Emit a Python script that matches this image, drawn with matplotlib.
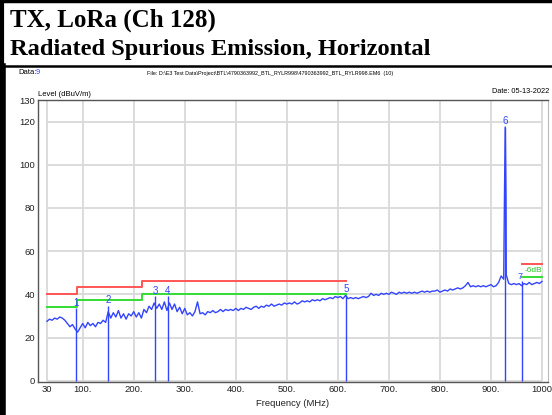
import numpy as np
import matplotlib
matplotlib.use("Agg")
import matplotlib.pyplot as plt

# Trace (peak scan), every 5 MHz
freq_mhz = np.arange(30, 1001, 5)
level_dbuv = [
    27.5, 28.5, 28.0, 29.0, 28.5, 29.5, 29.0, 28.0, 26.5, 25.0, 26.0, 24.0,
    22.5, 24.5, 26.5, 24.5, 27.0, 25.5, 26.5, 25.0, 27.0, 26.5, 28.0, 27.0,
    32.0, 29.0, 31.5, 29.5, 32.5, 29.0, 31.0, 28.5, 31.0, 30.0, 32.0, 29.5,
    31.5, 29.0, 33.0, 31.5, 34.5, 33.0, 36.0, 33.5, 35.5, 33.0, 36.5, 32.5,
    36.0, 33.0, 35.5, 32.0, 34.0, 31.0, 33.5, 30.5, 31.5, 30.0, 32.0, 36.5,
    31.0, 31.5, 30.5, 32.0, 31.5, 32.5, 31.5, 32.0, 33.0, 32.0, 33.0, 32.5,
    33.0, 32.5, 33.5, 32.5, 33.5, 33.0, 34.0, 33.5, 33.0, 34.0, 34.5, 33.5,
    34.5, 34.0, 35.0, 34.5, 35.5, 34.5, 35.0, 35.5, 35.0, 36.0, 35.5, 36.0,
    35.5, 36.5, 35.5, 36.0, 37.0, 36.5, 37.0, 36.5, 37.5, 37.0, 37.5, 37.0,
    38.0, 37.5, 38.0, 38.5, 38.0, 39.0, 38.5, 39.0, 38.0, 39.5, 38.0, 38.5,
    38.0, 38.5, 38.0, 38.5, 39.0, 38.5, 39.0, 40.5, 39.5, 40.0, 39.5, 40.5,
    40.0, 40.5, 40.0, 41.0, 40.5, 40.0, 41.0, 40.5, 41.0, 40.5, 41.0, 40.5,
    41.0, 40.5, 41.0, 41.5, 41.0, 41.5, 41.0, 41.5, 41.5, 42.0, 41.0, 41.5,
    42.0, 41.5, 42.5, 42.0, 42.5, 43.0, 42.5, 43.0, 44.0, 45.5, 43.5, 44.0,
    43.5, 44.0, 43.5, 44.0, 43.5, 44.0, 44.5, 43.5, 44.0, 45.5, 48.5, 47.0,
    49.0, 45.0, 44.5, 45.0, 44.5, 45.0, 44.0, 45.0, 44.5, 45.5, 44.5, 45.0,
    45.5, 45.0, 46.0,
]
# carrier spike
spike_freq = [926.5, 928.0, 929.5]
spike_level = [86.0, 117.5, 84.0]

# limit lines (red) and -6 dB margin (green)
limit_freq = [30, 88, 88, 216, 216, 615]
limit_level = [40.0, 40.0, 43.5, 43.5, 46.0, 46.0]
margin_level = [34.0, 34.0, 37.5, 37.5, 40.0, 40.0]
limit2_freq = [960, 1000]
limit2_level = [54.0, 54.0]
margin2_level = [48.0, 48.0]

# markers
marker_no = ["1", "2", "3", "4", "5", "6", "7"]
marker_freq = [86.9, 150.0, 241.6, 266.5, 615.5, 928.0, 960.0]
marker_level = [33.5, 34.5, 39.0, 39.0, 39.7, 117.5, 46.0]

xticks = [30, 100, 200, 300, 400, 500, 600, 700, 800, 900, 1000]
xticklabels = ["30", "100.", "200.", "300.", "400.", "500.", "600.",
               "700.", "800.", "900.", "1000"]
yticks = [0, 20, 40, 60, 80, 100, 120, 130]

W, H = 552, 415
narrow = ["Liberation Sans Narrow", "Liberation Sans"]
blue = "#3344ff"

fig = plt.figure(figsize=(W / 100, H / 100), dpi=100)

# report frame
fig.add_artist(plt.Line2D([0, 1], [1 - 1 / H, 1 - 1 / H], color="black", lw=2.5))
fig.add_artist(plt.Line2D([0, 1], [1 - 66 / H, 1 - 66 / H], color="black", lw=1.8))
fig.add_artist(plt.Line2D([1.5 / W, 1.5 / W], [0, 1], color="black", lw=3))
fig.add_artist(plt.Line2D([2.5 / W, 2.5 / W], [0, 1 - 66 / H], color="black", lw=4))

fig.text(10 / W, 1 - 20 / H, "TX, LoRa (Ch 128)", family="Liberation Serif",
         weight="bold", fontsize=18, va="center")
fig.text(10 / W, 1 - 50 / H, "Radiated Spurious Emission, Horizontal",
         family="Liberation Serif", weight="bold", fontsize=17.6, va="center")

fig.text(18 / W, 1 - 73 / H, "Data:", family=narrow, fontsize=5.5, va="center")
fig.text(36 / W, 1 - 73 / H, "9", family=narrow, fontsize=5.5, va="center", color=blue)
fig.text(147 / W, 1 - 73 / H,
         r"File: D:\E3 Test Data\Project\BTL\4790363992_BTL_RYLR998\4790363992_BTL_RYLR998.EM6  (10)",
         family=narrow, fontsize=3.9, va="center")
fig.text(549 / W, 1 - 91.5 / H, "Date: 05-13-2022", family=narrow, fontsize=5.3,
         va="center", ha="right")
fig.text(38 / W, 1 - 95 / H, "Level (dBuV/m)", family=narrow, fontsize=5.5, va="center")

ax = fig.add_axes([38 / W, (H - 382) / H, (548 - 38) / W, (382 - 100) / H])
ax.set_xlim(12.4, 1011.8)
ax.set_ylim(-0.6, 130)

# grid
ax.hlines([0, 20, 40, 60, 80, 100, 120], 30, 1000, color="#d9d9d9", lw=1.3, zorder=0)
ax.vlines(xticks, 0, 130, color="#d9d9d9", lw=1.3, zorder=0)

# limits
ax.plot(limit_freq, limit_level, color="#ff5555", lw=1.4)
ax.plot(limit_freq, margin_level, color="#33dd33", lw=1.4)
ax.plot(limit2_freq, limit2_level, color="#ff5555", lw=1.4)
ax.plot(limit2_freq, margin2_level, color="#33dd33", lw=1.4)
ax.text(1000, 51, "-6dB", color="#22cc22", fontsize=6, family=narrow,
        ha="right", va="center",
        bbox=dict(facecolor="white", edgecolor="none", pad=0.2))

# trace
f_all = np.concatenate([freq_mhz, spike_freq])
l_all = np.concatenate([level_dbuv, spike_level])
order = np.argsort(f_all)
ax.plot(f_all[order], l_all[order], color=blue, lw=1.0)

# marker lines
ax.vlines(marker_freq, 0, marker_level, color=blue, lw=1.0)
for n, f, lv in zip(marker_no, marker_freq, marker_level):
    if n == "7":
        ax.text(f + 1, lv + 0.2, n, color=blue, fontsize=6.5, family=narrow,
                ha="right", va="bottom")
    else:
        ax.text(f, lv + 0.4, n, color=blue, fontsize=7, family=narrow,
                ha="center", va="bottom")

ax.set_xticks(xticks)
ax.set_xticklabels(xticklabels)
ax.set_yticks(yticks)
ax.tick_params(length=0, labelsize=6.8, pad=2, labelcolor="#222222")
for lab in ax.get_xticklabels() + ax.get_yticklabels():
    lab.set_family(narrow)
ax.set_xlabel("Frequency (MHz)", family=narrow, fontsize=6.8, labelpad=4,
              color="#222222")

for side in ["left", "bottom", "top"]:
    ax.spines[side].set_color("#555555")
    ax.spines[side].set_linewidth(1.0)
ax.spines["right"].set_color("#bbbbbb")

fig.savefig("out.png", dpi=100)
